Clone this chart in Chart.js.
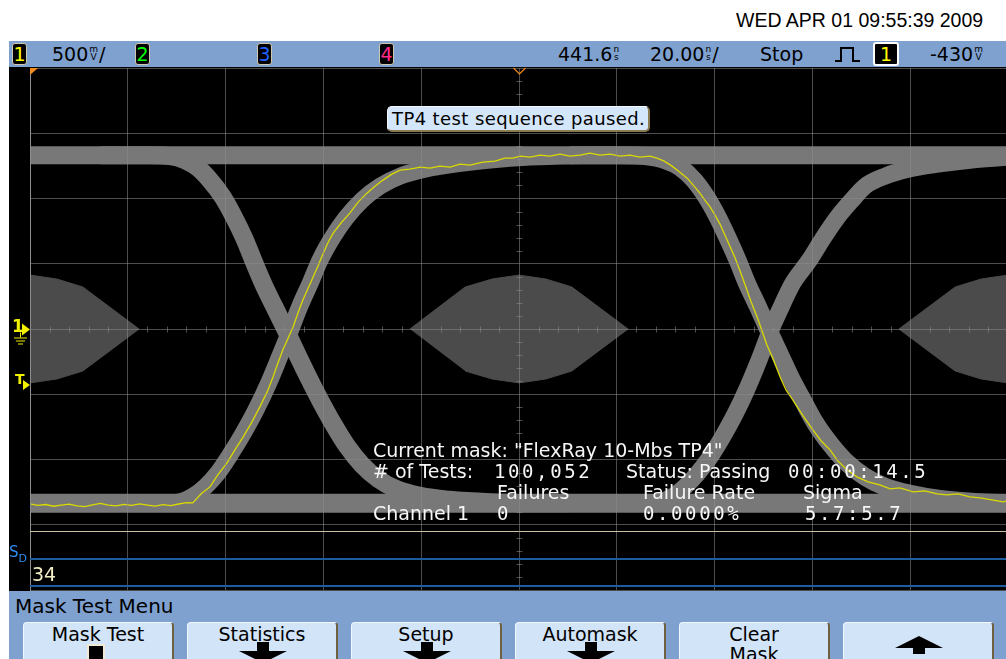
<!DOCTYPE html>
<html>
<head>
<meta charset="utf-8">
<script src="https://cdn.jsdelivr.net/npm/chart.js@4.4.1/dist/chart.umd.min.js"></script>
<style>
html, body { margin: 0; padding: 0; }
body { width: 1006px; height: 659px; overflow: hidden; position: relative; background: #fff; font-family: "DejaVu Sans", sans-serif; }
.abs { position: absolute; white-space: nowrap; }
#date { left: 736px; top: 9px; font: 19.5px/22px "Liberation Sans", Arial, sans-serif; color: #000; }
#bar { left: 9px; top: 41px; width: 997px; height: 26px; background: #7fa1cf; }
.ch { position: absolute; top: 43px; width: 13px; height: 20px; background: #000; border: 1px solid #cfc7ae; border-radius: 3px; font: 19px/20px "DejaVu Sans", sans-serif; text-align: center; }
.bt { position: absolute; top: 43px; font: 19px/22px "DejaVu Sans", sans-serif; color: #000; white-space: nowrap; }
.u { display: inline-block; font-size: 9px; line-height: 8px; text-align: center; vertical-align: 1px; margin: 0 1px; }
#scope { left: 9px; top: 67px; width: 1000px; height: 524px; background: #000; overflow: hidden; }
#msg { left: 387px; top: 106px; width: 256px; height: 23px; padding-left: 4px; background: #d4e6fa; border: 1px solid #f4f8ff; border-right: 2px solid #8a7a50; border-bottom: 2px solid #8a7a50; border-radius: 5px; font: 18px/23px "DejaVu Sans", sans-serif; letter-spacing: 0.4px; color: #000; }
.st { position: absolute; color: #f6f6f6; font: 19px/22px "DejaVu Sans", sans-serif; white-space: nowrap; }
.mono { font-family: "DejaVu Sans Mono", "Liberation Mono", monospace; letter-spacing: 2.6px; }
.mk { position: absolute; color: #f0f000; font-family: "DejaVu Sans", sans-serif; font-weight: bold; }
#menu { left: 9px; top: 591px; width: 997px; height: 68px; background: #7fa1cf; }
#menuTitle { left: 15px; top: 595px; font: 20px/22px "DejaVu Sans", sans-serif; color: #000; }
.btn { position: absolute; top: 622px; width: 148px; height: 50px; background: #d2e4f8; border-top: 1px solid #f2f7ff; border-left: 1px solid #f2f7ff; border-right: 2px solid #6e6040; border-radius: 4px 4px 0 0; font: 19px/20px "DejaVu Sans", sans-serif; color: #000; text-align: center; padding-top: 1px; }
.btn svg { position: absolute; left: 50px; }
</style>
</head>
<body>
<div id="date" class="abs">WED APR 01 09:55:39 2009</div>

<div id="bar" class="abs"></div>
<div class="ch" style="left:12px;color:#ffff00">1</div>
<span class="bt" style="left:52px">500<span class="u">m<br>V</span>/</span>
<div class="ch" style="left:135px;color:#00ff00">2</div>
<div class="ch" style="left:257px;color:#2060ff">3</div>
<div class="ch" style="left:379px;color:#ff2a8a">4</div>
<span class="bt" style="left:558px">441.6<span class="u">n<br>s</span></span>
<span class="bt" style="left:650px">20.00<span class="u">n<br>s</span>/</span>
<span class="bt" style="left:760px">Stop</span>
<svg class="abs" style="left:834px;top:46px" width="28" height="18"><polyline points="1,15 7,15 7,2 19,2 19,15 26,15" fill="none" stroke="#000" stroke-width="2"/></svg>
<div class="ch" style="left:873px;width:22px;color:#ffff00;border:2px solid #fff;top:42px">1</div>
<span class="bt" style="left:930px">-430<span class="u">m<br>V</span></span>

<div id="scope" class="abs"><canvas id="eye" width="1000" height="524" style="width:1000px;height:524px"></canvas></div>

<div id="msg" class="abs">TP4 test sequence paused.</div>

<div class="st" style="left:373px;top:439px">Current mask: "FlexRay 10-Mbs TP4"</div>
<div class="st" style="left:373px;top:460px"># of Tests:</div>
<div class="st mono" style="left:494px;top:460px">100,052</div>
<div class="st" style="left:626px;top:460px">Status: Passing</div>
<div class="st mono" style="left:788px;top:460px">00:00:14.5</div>
<div class="st" style="left:497px;top:481px">Failures</div>
<div class="st" style="left:643px;top:481px">Failure Rate</div>
<div class="st" style="left:803px;top:481px">Sigma</div>
<div class="st" style="left:373px;top:502px">Channel 1</div>
<div class="st mono" style="left:497px;top:502px">0</div>
<div class="st mono" style="left:643px;top:502px">0.0000%</div>
<div class="st mono" style="left:805px;top:502px">5.7:5.7</div>

<div class="mk" style="left:12px;top:316px;font-size:17px">1</div>
<div class="mk" style="left:15px;top:371px;font-size:14px">T</div>
<div class="abs" style="left:9px;top:544px;color:#2d8cf0;font:15px/16px 'DejaVu Sans',sans-serif">S<span style="font-size:11px;position:relative;top:5px">D</span></div>
<div class="abs" style="left:32px;top:563px;color:#f2eec6;font:19px/22px 'DejaVu Sans',sans-serif">34</div>

<div id="menu" class="abs"></div>
<div id="menuTitle" class="abs">Mask Test Menu</div>
<div class="btn" style="left:23px">Mask Test<div style="position:absolute;left:63px;top:21px;width:14px;height:16px;background:#000;border:2px solid #efe9d6"></div></div>
<div class="btn" style="left:187px">Statistics<svg width="50" height="20" style="top:19px"><path d="M19 0h12v9h18l-24 12l-24-12h18z" fill="#000"/></svg></div>
<div class="btn" style="left:351px">Setup<svg width="50" height="20" style="top:19px"><path d="M19 0h12v9h18l-24 12l-24-12h18z" fill="#000"/></svg></div>
<div class="btn" style="left:515px">Automask<svg width="50" height="20" style="top:19px"><path d="M19 0h12v9h18l-24 12l-24-12h18z" fill="#000"/></svg></div>
<div class="btn" style="left:679px">Clear<br>Mask</div>
<div class="btn" style="left:843px"><svg width="50" height="20" style="top:12px"><path d="M1 13l24-12l24 12h-18v6h-12v-6z" fill="#000"/></svg></div>

<script>
// horizontal: 20 ns/div around 441.6 ns; vertical: 500 mV/div, ground at centre
const timeDivs = [341.6, 361.6, 381.6, 401.6, 421.6, 441.6, 461.6, 481.6, 501.6, 521.6, 541.6];
const voltDivs = [-2000, -1500, -1000, -500, 0, 500, 1000, 1500, 2000];
const triggerTime = 441.6;
const triggerLevel = -430;

// persistence bands, centre lines [ns, mV]
const highLevel = [[341.6, 1332], [541.6, 1332]];
const lowLevel = [[341.6, -1336], [541.6, -1336]];
const fall1 = [[356.0, 1332], [366.1, 1332], [370.2, 1325], [373.3, 1294], [376.0, 1233], [378.4, 1141], [380.9, 1018], [383.1, 873], [385.4, 697], [387.4, 513], [389.5, 329], [391.7, 161], [394.0, -15], [396.2, -191], [398.5, -368], [400.9, -544], [403.6, -727], [406.4, -896], [409.5, -1041], [412.8, -1149], [416.4, -1225], [421.4, -1279], [427.5, -1309], [435.7, -1328], [443.9, -1336], [452.0, -1336]];
const rise1 = [[358.0, -1336], [368.2, -1336], [372.3, -1325], [374.7, -1286], [377.4, -1210], [380.0, -1103], [382.5, -965], [385.0, -812], [387.8, -620], [390.5, -406], [392.7, -207], [394.8, -15], [396.8, 176], [398.9, 352], [400.9, 528], [403.4, 697], [406.2, 850], [409.5, 988], [413.2, 1095], [417.3, 1172], [422.4, 1225], [428.5, 1263], [435.7, 1294], [443.9, 1317], [452.0, 1328], [462.0, 1332]];
const fall2 = [[452.0, 1332], [462.3, 1332], [467.4, 1325], [471.5, 1294], [474.5, 1240], [477.4, 1141], [479.8, 1018], [481.9, 881], [484.1, 712], [486.2, 536], [488.2, 352], [490.5, 168], [492.7, -15], [495.0, -199], [497.2, -375], [499.7, -551], [502.3, -727], [505.4, -888], [508.7, -1026], [512.4, -1133], [516.5, -1210], [521.6, -1263], [527.7, -1302], [534.9, -1325], [542.0, -1336]];
const rise2 = [[456.0, -1336], [466.3, -1336], [470.4, -1325], [472.9, -1286], [475.5, -1210], [478.2, -1103], [480.7, -980], [483.1, -835], [485.8, -651], [488.4, -444], [490.7, -237], [492.9, -23], [495.2, 168], [497.6, 352], [501.0, 528], [503.8, 697], [506.6, 850], [509.7, 988], [512.4, 1095], [516.5, 1172], [521.2, 1225], [527.3, 1263], [534.2, 1294], [542.0, 1317]];

// FlexRay TP4 mask polygons [ns, mV]
const maskLeft = [[341.6, 413], [347.1, 383], [352.4, 322], [363.9, 0], [352.4, -322], [347.1, -383], [341.6, -413]];
const maskCentre = [[419.3, 0], [430.6, 322], [436.1, 383], [441.6, 413], [447.1, 383], [452.4, 322], [463.9, 0], [452.4, -322], [447.1, -383], [441.6, -413], [436.1, -383], [430.6, -322]];
const maskRight = [[541.6, 413], [536.1, 383], [530.8, 322], [519.3, 0], [530.8, -322], [536.1, -383], [541.6, -413]];

// last acquired waveform, channel 1 [ns, mV]
const trace = [[341.6, -1340], [343.2, -1352], [344.8, -1345], [346.4, -1358], [348.0, -1350], [349.6, -1342], [351.2, -1355], [352.8, -1361], [354.4, -1348], [356.0, -1337], [357.6, -1350], [359.2, -1356], [360.8, -1344], [362.4, -1352], [364.0, -1340], [365.6, -1349], [367.2, -1357], [368.8, -1346], [370.4, -1353], [372.0, -1341], [373.6, -1330],
  [374.9, -1332], [376.6, -1263], [378.4, -1210], [380.0, -1118], [381.9, -1026], [383.5, -926], [385.2, -827], [387.0, -712], [388.6, -597], [390.1, -482], [391.3, -368], [392.3, -260], [393.3, -161], [394.4, -69], [395.4, 15], [396.4, 123], [397.4, 222], [398.5, 314], [399.5, 398], [400.5, 482], [401.5, 574], [402.5, 659], [403.6, 735], [405.2, 812], [407.0, 888], [408.7, 972], [410.5, 1041], [412.2, 1095], [413.8, 1141], [415.6, 1187], [417.3, 1217],
  [419.3, 1225], [421.4, 1240], [423.4, 1233], [425.4, 1248], [427.5, 1240], [429.5, 1263], [431.6, 1256], [434.2, 1279], [436.7, 1286], [438.7, 1309], [440.4, 1309], [441.8, 1325], [443.9, 1317], [445.9, 1332], [447.9, 1325], [450.0, 1340], [452.0, 1325], [454.1, 1332], [456.1, 1348], [458.2, 1332], [460.2, 1340], [462.3, 1325], [464.3, 1332], [466.3, 1317], [468.4, 1325], [469.8, 1309],
  [471.3, 1286], [472.9, 1248], [474.5, 1202], [476.0, 1156], [477.4, 1095], [478.6, 1041], [479.6, 988], [480.7, 934], [481.7, 873], [482.7, 804], [483.7, 720], [484.8, 628], [485.8, 544], [486.8, 444], [488.0, 322], [489.0, 214], [490.3, 92], [491.3, -15], [492.3, -123], [493.5, -222], [495.0, -368], [496.2, -467], [497.6, -544], [499.7, -666], [501.7, -773], [503.4, -858], [505.2, -926], [506.8, -1011], [508.7, -1080],
  [510.7, -1133], [513.0, -1172], [515.4, -1194], [517.5, -1225], [519.5, -1217], [522.2, -1248], [524.6, -1240], [527.1, -1263], [529.1, -1271], [531.4, -1263], [533.8, -1286], [535.9, -1294], [538.3, -1309], [540.6, -1325], [541.6, -1317]];

const gridColor = "rgba(140,140,140,0.55)";
const bandColor = "#787878";
const maskColor = "#4b4b4b";

const pts = (arr) => arr.map(([x, y]) => ({ x, y }));

function band(data, width) {
  return {
    data: pts(data),
    showLine: true,
    borderColor: bandColor,
    borderWidth: width,
    cubicInterpolationMode: "monotone",
    fill: false,
    order: 2,
  };
}

function mask(data) {
  return {
    data: pts(data),
    showLine: true,
    borderColor: maskColor,
    borderWidth: 1,
    backgroundColor: maskColor,
    fill: "shape",
    order: 3,
  };
}

const datasets = [
  {
    data: pts(trace),
    showLine: true,
    borderColor: "#dada00",
    borderWidth: 1.3,
    fill: false,
    order: 0,
  },
  band(highLevel, 18),
  band(lowLevel, 19),
  band(fall1, 18),
  band(rise1, 17),
  band(fall2, 18),
  band(rise2, 17),
  mask(maskLeft),
  mask(maskCentre),
  mask(maskRight),
];

// graticule details, serial lanes and markers that the scope draws around the waveform
const scopeDecor = {
  id: "scopeDecor",
  afterDraw(chart) {
    const { ctx, chartArea: a, scales } = chart;
    const x = scales.x;
    const y = scales.y;
    const cx = Math.round(x.getPixelForValue(triggerTime)) + 0.5;
    const cy = Math.round(y.getPixelForValue(0)) + 0.5;
    ctx.save();
    ctx.lineWidth = 1;
    ctx.strokeStyle = gridColor;
    ctx.beginPath();
    for (let i = 0; i < timeDivs.length - 1; i++) {
      for (let k = 1; k < 5; k++) {
        const px = Math.round(x.getPixelForValue(timeDivs[i] + k * 4)) + 0.5;
        ctx.moveTo(px, cy - 3);
        ctx.lineTo(px, cy + 3);
      }
    }
    for (let i = 0; i < voltDivs.length - 1; i++) {
      for (let k = 1; k < 5; k++) {
        const py = Math.round(y.getPixelForValue(voltDivs[i] + k * 100)) + 0.5;
        ctx.moveTo(cx - 3, py);
        ctx.lineTo(cx + 3, py);
      }
    }
    ctx.stroke();

    // serial decode lanes at the bottom
    ctx.strokeStyle = "#c9c1a2";
    ctx.beginPath();
    ctx.moveTo(a.left, a.bottom - 58.5);
    ctx.lineTo(chart.width, a.bottom - 58.5);
    ctx.stroke();
    ctx.strokeStyle = "#1d5c9e";
    ctx.lineWidth = 2;
    ctx.beginPath();
    ctx.moveTo(a.left, a.bottom - 31);
    ctx.lineTo(chart.width, a.bottom - 31);
    ctx.moveTo(a.left, a.bottom - 4);
    ctx.lineTo(chart.width, a.bottom - 4);
    ctx.stroke();

    // orange time reference markers
    ctx.fillStyle = "#f28a1c";
    ctx.beginPath();
    ctx.moveTo(a.left, a.top);
    ctx.lineTo(a.left + 8, a.top);
    ctx.lineTo(a.left, a.top + 7);
    ctx.closePath();
    ctx.fill();
    ctx.strokeStyle = "#f28a1c";
    ctx.lineWidth = 1.2;
    ctx.beginPath();
    ctx.moveTo(cx - 6, a.top);
    ctx.lineTo(cx, a.top + 6);
    ctx.lineTo(cx + 6, a.top);
    ctx.stroke();

    // channel 1 ground and trigger level markers
    ctx.fillStyle = "#f0f000";
    ctx.strokeStyle = "#f0f000";
    const ty = y.getPixelForValue(triggerLevel);
    ctx.beginPath();
    ctx.moveTo(a.left - 8, cy - 6);
    ctx.lineTo(a.left, cy);
    ctx.lineTo(a.left - 8, cy + 6);
    ctx.closePath();
    ctx.moveTo(a.left - 7, ty - 5);
    ctx.lineTo(a.left, ty);
    ctx.lineTo(a.left - 7, ty + 5);
    ctx.closePath();
    ctx.fill();
    ctx.lineWidth = 1;
    ctx.beginPath();
    ctx.moveTo(a.left - 9.5, cy + 3);
    ctx.lineTo(a.left - 9.5, cy + 8);
    ctx.moveTo(a.left - 16, cy + 8.5);
    ctx.lineTo(a.left - 3, cy + 8.5);
    ctx.moveTo(a.left - 14, cy + 11.5);
    ctx.lineTo(a.left - 5, cy + 11.5);
    ctx.moveTo(a.left - 12, cy + 14.5);
    ctx.lineTo(a.left - 7, cy + 14.5);
    ctx.stroke();
    ctx.restore();
  },
};

const setTicks = (values) => (axis) => {
  axis.ticks = values.map((v) => ({ value: v }));
};

new Chart(document.getElementById("eye"), {
  type: "scatter",
  data: { datasets },
  options: {
    responsive: false,
    animation: false,
    events: [],
    layout: { padding: { left: 21, right: 1, top: 1, bottom: 1 } },
    elements: { point: { radius: 0 }, line: { borderCapStyle: "butt" } },
    plugins: { legend: { display: false }, tooltip: { enabled: false } },
    scales: {
      x: {
        type: "linear",
        min: 341.6,
        max: 541.6,
        afterBuildTicks: setTicks(timeDivs),
        ticks: { display: false },
        grid: { color: gridColor, drawTicks: false, z: 1 },
        border: { display: false },
      },
      y: {
        type: "linear",
        min: -2000,
        max: 2000,
        afterBuildTicks: setTicks(voltDivs),
        ticks: { display: false },
        grid: { color: gridColor, drawTicks: false, z: 1 },
        border: { color: "#8e8e8e", z: 2 },
      },
    },
  },
  plugins: [scopeDecor],
});
</script>
</body>
</html>
